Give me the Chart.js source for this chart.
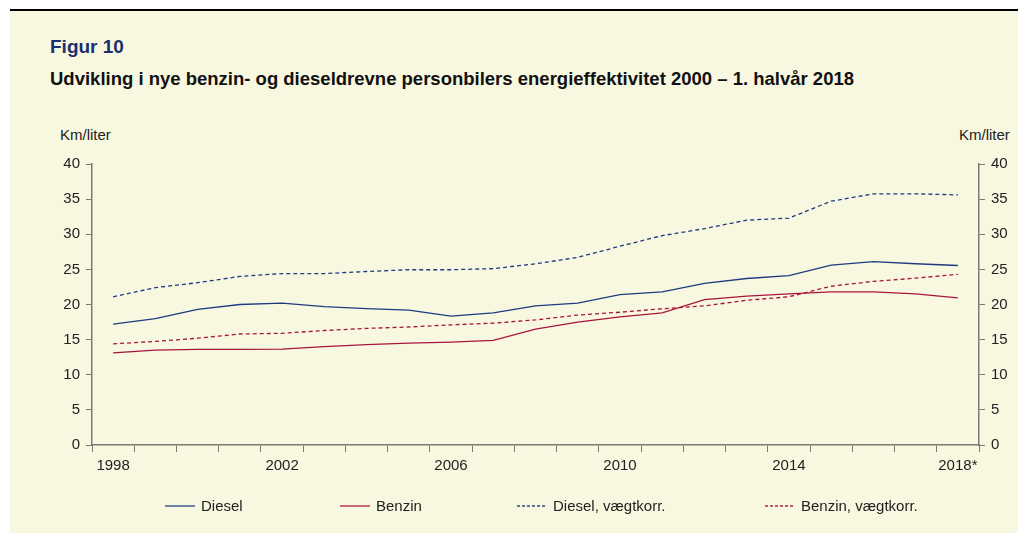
<!DOCTYPE html>
<html>
<head>
<meta charset="utf-8">
<script src="https://cdn.jsdelivr.net/npm/chart.js@4/dist/chart.umd.min.js"></script>
<style>
  body { margin: 0; background: #fff; font-family: "Liberation Sans", Arial, sans-serif; }
  #panel { position: absolute; left: 10px; top: 11px; width: 1008px; height: 522px; background: #f8f8e1; }
  #rule { position: absolute; left: 10px; top: 9px; width: 1008px; height: 2px; background: #000; }
  #fig { position: absolute; left: 50px; top: 36px; font-size: 19px; font-weight: bold; color: #1b2f6e; }
  #sub { position: absolute; left: 50px; top: 68px; font-size: 18.5px; font-weight: bold; color: #111; }
  .unit { position: absolute; top: 126px; font-size: 15px; color: #222; }
  #wrap { position: absolute; left: 0; top: 0; width: 1018px; height: 534px; }
  #legend { position: absolute; top: 497px; left: 0; width: 1018px; height: 20px; font-size: 15px; color: #222; }
  .item { position: absolute; display: flex; align-items: center; white-space: nowrap; }
  .item svg { margin-right: 6px; }
</style>
</head>
<body>
<div id="rule"></div>
<div id="panel"></div>
<div id="fig">Figur 10</div>
<div id="sub">Udvikling i nye benzin- og dieseldrevne personbilers energieffektivitet 2000 – 1. halvår 2018</div>
<div class="unit" style="left:60px">Km/liter</div>
<div class="unit" style="left:959px">Km/liter</div>
<div id="wrap"><canvas id="chart"></canvas></div>
<div id="legend"></div>
<script>
// Years on the x axis (last one is first half of 2018)
const years = ['1998', '1999', '2000', '2001', '2002', '2003', '2004', '2005', '2006', '2007',
  '2008', '2009', '2010', '2011', '2012', '2013', '2014', '2015', '2016', '2017', '2018*'];

// Km/liter
const diesel = [17.2, 18.0, 19.3, 20.0, 20.2, 19.7, 19.4, 19.2, 18.35, 18.8,
  19.8, 20.2, 21.4, 21.8, 23.0, 23.7, 24.1, 25.6, 26.1, 25.8, 25.55];
const benzin = [13.1, 13.5, 13.6, 13.6, 13.65, 14.0, 14.3, 14.5, 14.65, 14.9,
  16.5, 17.5, 18.25, 18.8, 20.7, 21.2, 21.5, 21.8, 21.8, 21.5, 20.95];
const dieselVaegt = [21.1, 22.4, 23.1, 24.0, 24.4, 24.4, 24.7, 24.95, 24.95, 25.1,
  25.8, 26.7, 28.3, 29.8, 30.8, 32.0, 32.3, 34.7, 35.75, 35.75, 35.6];
const benzinVaegt = [14.4, 14.75, 15.2, 15.8, 15.9, 16.3, 16.6, 16.8, 17.1, 17.35,
  17.8, 18.5, 18.9, 19.4, 19.8, 20.6, 21.1, 22.6, 23.3, 23.75, 24.3];

const shownYears = ['1998', '2002', '2006', '2010', '2014', '2018*'];

const blue = '#1e3a80';
const red = '#a8143c';
const dash = [4, 3];

const datasets = [
  { label: 'Diesel', data: diesel, borderColor: blue },
  { label: 'Benzin', data: benzin, borderColor: red },
  { label: 'Diesel, vægtkorr.', data: dieselVaegt, borderColor: blue, borderDash: dash },
  { label: 'Benzin, vægtkorr.', data: benzinVaegt, borderColor: red, borderDash: dash }
].map(d => Object.assign({ borderWidth: 1.3, pointRadius: 0, tension: 0, fill: false }, d));

const axisColor = '#7a7a72';
const tickFont = { family: 'Liberation Sans', size: 15 };

new Chart(document.getElementById('chart'), {
  type: 'line',
  data: { labels: years, datasets: datasets },
  options: {
    responsive: true,
    maintainAspectRatio: false,
    animation: false,
    layout: { padding: { left: 50, right: 0, top: 164, bottom: 50 } },
    plugins: { legend: { display: false }, tooltip: { enabled: false } },
    scales: {
      x: {
        offset: true,
        grid: { offset: true, drawOnChartArea: false, color: axisColor, tickLength: 7 },
        border: { color: axisColor, width: 1.5 },
        ticks: {
          autoSkip: false, maxRotation: 0, color: '#222', font: tickFont, padding: 5,
          callback: function (v) {
            const l = this.getLabelForValue(v);
            return shownYears.includes(l) ? l : '';
          }
        },
        afterFit: s => { s.height = 39; }
      },
      y: {
        position: 'left', min: 0, max: 40,
        grid: { drawOnChartArea: false, color: axisColor, tickLength: 6 },
        border: { color: axisColor, width: 1.5 },
        ticks: { stepSize: 5, color: '#222', font: tickFont, padding: 6 },
        afterFit: s => { s.width = 42; }
      },
      y2: {
        position: 'right', min: 0, max: 40,
        grid: { drawOnChartArea: false, color: axisColor, tickLength: 6 },
        border: { color: axisColor, width: 1.5 },
        ticks: { stepSize: 5, color: '#222', font: tickFont, padding: 6 },
        afterFit: s => { s.width = 39; }
      }
    }
  }
});

// legend built from the datasets
const legendX = [165, 340, 517, 765];
const leg = document.getElementById('legend');
datasets.forEach((d, i) => {
  const it = document.createElement('div');
  it.className = 'item';
  it.style.left = legendX[i] + 'px';
  const da = d.borderDash ? ' stroke-dasharray="3,2"' : '';
  it.innerHTML = '<svg width="30" height="4"><line x1="0" y1="2" x2="30" y2="2" stroke="' +
    d.borderColor + '" stroke-opacity="0.7" stroke-width="1.8"' + da + '/></svg>';
  it.appendChild(document.createTextNode(d.label));
  leg.appendChild(it);
});
</script>
</body>
</html>
